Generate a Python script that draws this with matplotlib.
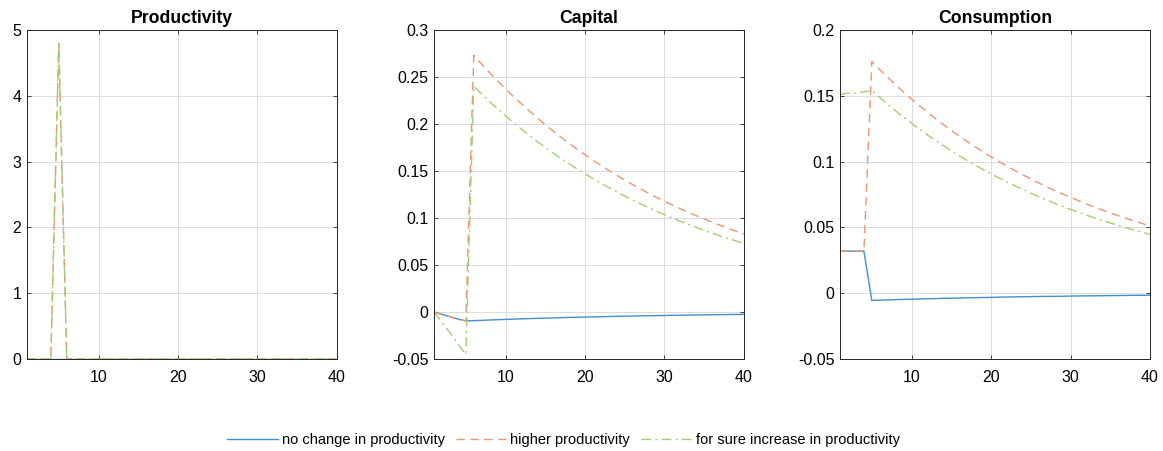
import matplotlib
matplotlib.use("Agg")
import matplotlib.pyplot as plt
from matplotlib.ticker import FuncFormatter

plt.rcParams['font.family'] = ['Liberation Sans', 'DejaVu Sans']
plt.rcParams['axes.unicode_minus'] = False

periods = list(range(1, 41))
labels = ['no change in productivity', 'higher productivity',
          'for sure increase in productivity']

# productivity paths
prod_none = [0.0] * 40
prod_high = [0.0] * 4 + [4.8] + [0.0] * 35
prod_sure = [0.0] * 4 + [4.8] + [0.0] * 35

# capital paths
cap_none = [0.0, -0.0025, -0.005, -0.0075, -0.0095,
            -0.0092, -0.0089, -0.0085, -0.0082, -0.0079, -0.0076, -0.0073, -0.0070,
            -0.0068, -0.0065, -0.0063, -0.0060, -0.0058, -0.0056, -0.0054, -0.0052,
            -0.0050, -0.0048, -0.0046, -0.0044, -0.0043, -0.0041, -0.0040, -0.0038,
            -0.0037, -0.0035, -0.0034, -0.0033, -0.0031, -0.0030, -0.0029, -0.0028,
            -0.0027, -0.0026, -0.0025]
cap_high = [0.0, -0.0025, -0.005, -0.0075, -0.0095,
            0.273, 0.2636, 0.2545, 0.2458, 0.2373, 0.2291, 0.2213, 0.2137, 0.2063,
            0.1992, 0.1924, 0.1857, 0.1793, 0.1732, 0.1672, 0.1615, 0.1559, 0.1505,
            0.1454, 0.1404, 0.1355, 0.1309, 0.1264, 0.1220, 0.1178, 0.1138, 0.1098,
            0.1061, 0.1024, 0.0989, 0.0955, 0.0922, 0.0890, 0.0859, 0.0830]
cap_sure = [0.0, -0.011, -0.022, -0.034, -0.045,
            0.240, 0.2317, 0.2237, 0.2161, 0.2086, 0.2014, 0.1945, 0.1878, 0.1813,
            0.1751, 0.1691, 0.1632, 0.1576, 0.1522, 0.1470, 0.1420, 0.1370, 0.1323,
            0.1278, 0.1234, 0.1191, 0.1151, 0.1111, 0.1072, 0.1035, 0.1000, 0.0965,
            0.0933, 0.0900, 0.0869, 0.0839, 0.0810, 0.0782, 0.0755, 0.0730]

# consumption paths
cons_none = [0.032] * 4 + [
    -0.0055, -0.0053, -0.0051, -0.0049, -0.0047, -0.0046, -0.0044, -0.0042,
    -0.0041, -0.0039, -0.0038, -0.0037, -0.0035, -0.0034, -0.0033, -0.0032,
    -0.0030, -0.0029, -0.0028, -0.0027, -0.0026, -0.0025, -0.0024, -0.0024,
    -0.0023, -0.0022, -0.0021, -0.0020, -0.0020, -0.0019, -0.0018, -0.0018,
    -0.0017, -0.0016, -0.0016, -0.0015]
cons_high = [0.032] * 4 + [
    0.176, 0.1699, 0.1640, 0.1583, 0.1528, 0.1475, 0.1424, 0.1375, 0.1327,
    0.1281, 0.1236, 0.1194, 0.1152, 0.1112, 0.1074, 0.1036, 0.1000, 0.0966,
    0.0932, 0.0900, 0.0869, 0.0838, 0.0809, 0.0781, 0.0754, 0.0728, 0.0703,
    0.0678, 0.0655, 0.0632, 0.0610, 0.0589, 0.0568, 0.0549, 0.0530, 0.0511]
cons_sure = [0.151, 0.152, 0.152, 0.153,
             0.154, 0.1487, 0.1435, 0.1385, 0.1337, 0.1291, 0.1246, 0.1203, 0.1161,
             0.1121, 0.1082, 0.1045, 0.1008, 0.0973, 0.0940, 0.0907, 0.0875, 0.0845,
             0.0816, 0.0788, 0.0760, 0.0733, 0.0708, 0.0683, 0.0660, 0.0637, 0.0615,
             0.0593, 0.0573, 0.0553, 0.0534, 0.0515, 0.0497, 0.0480, 0.0464, 0.0447]

colors = ['#3f8fd2', '#eb9670', '#a3cf72']
styles = ['-', (0, (6, 4)), (0, (7, 3, 1.5, 3))]

panels = [
    ('Productivity', [prod_none, prod_high, prod_sure], (0, 5), [0, 1, 2, 3, 4, 5]),
    ('Capital', [cap_none, cap_high, cap_sure], (-0.05, 0.3),
     [-0.05, 0, 0.05, 0.1, 0.15, 0.2, 0.25, 0.3]),
    ('Consumption', [cons_none, cons_high, cons_sure], (-0.05, 0.2),
     [-0.05, 0, 0.05, 0.1, 0.15, 0.2]),
]
lefts = [0.0232, 0.3732, 0.7223]

fig = plt.figure(figsize=(11.63, 4.51), dpi=100)
handles = []
for (title, series, ylim, yticks), left in zip(panels, lefts):
    ax = fig.add_axes([left, 0.204, 0.2665, 0.7295])
    for s, c, ls, lab in zip(series, colors, styles, labels):
        h, = ax.plot(periods, s, color=c, linestyle=ls, linewidth=1.0, label=lab)
        if title == 'Productivity':
            handles.append(h)
    ax.set_xlim(1, 40)
    ax.set_ylim(*ylim)
    ax.set_xticks([10, 20, 30, 40])
    ax.set_yticks(yticks)
    ax.yaxis.set_major_formatter(FuncFormatter(lambda v, p: f'{v:g}'))
    ax.set_title(title, fontsize=12.7, fontweight='bold', pad=5)
    ax.grid(True, color='#dcdcdc', linewidth=0.7)
    ax.set_axisbelow(True)
    ax.tick_params(direction='in', top=True, right=True, labelsize=11.5,
                   length=3, width=0.6, color='#262626')
    ax.tick_params(axis='y', pad=4)
    ax.tick_params(axis='x', pad=8)
    for sp in ax.spines.values():
        sp.set_linewidth(0.7)
        sp.set_color('#262626')

fig.legend(handles=handles, loc='center', bbox_to_anchor=(0.4845, 0.0245), ncol=3,
           frameon=False, fontsize=10.5, handlelength=3.5, columnspacing=0.75,
           handletextpad=0.25)

fig.savefig('out.png', dpi=100)
